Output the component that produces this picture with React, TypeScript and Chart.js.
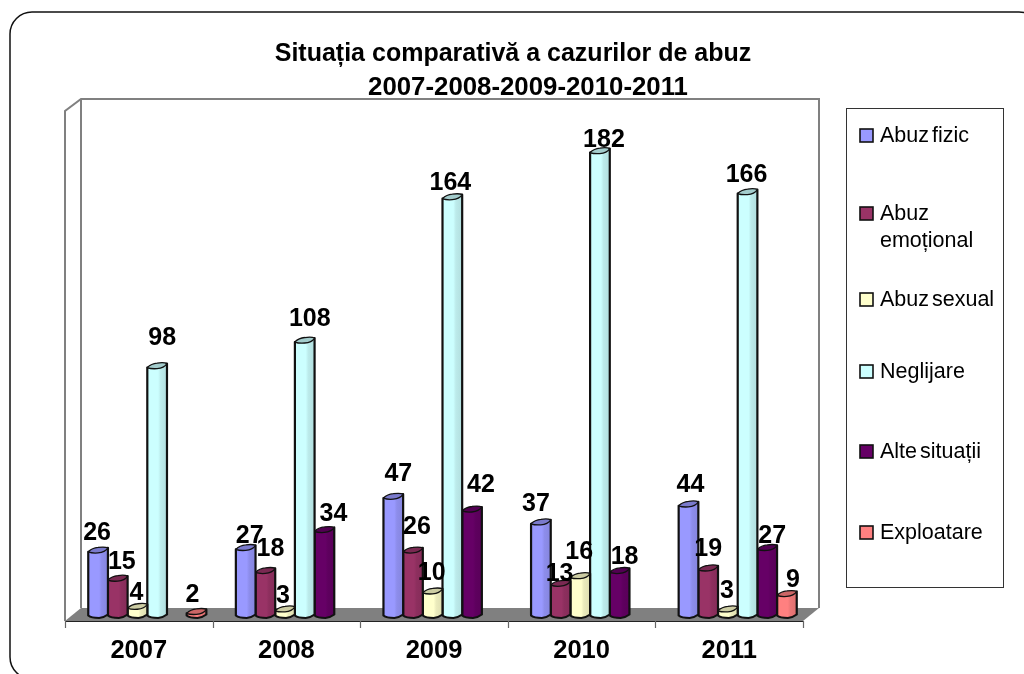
import React, { useEffect, useRef } from "react";
import { Chart, registerables } from "chart.js";

Chart.register(...registerables);

const years = ["2007", "2008", "2009", "2010", "2011"];
const abuzFizic = [26, 27, 47, 37, 44];
const abuzEmotional = [15, 18, 26, 13, 19];
const abuzSexual = [4, 3, 10, 16, 3];
const neglijare = [98, 108, 164, 182, 166];
const alteSituatii = [null, 34, 42, 18, 27];
const exploatare = [2, null, null, null, 9];

const seriesNames = ["Abuz fizic", "Abuz emoțional", "Abuz sexual", "Neglijare", "Alte situații", "Exploatare"];
const seriesValues = [abuzFizic, abuzEmotional, abuzSexual, neglijare, alteSituatii, exploatare];
const seriesColors = ["#9999FF", "#993366", "#FFFFCC", "#CCFFFF", "#660066", "#FF8080"];
const titleLines = ["Situația comparativă a cazurilor de abuz", "2007-2008-2009-2010-2011"];

// Label placement relative to each bar's top centre, per series then per year.
const labelNudges: [number, number][][] = [
  [[-1, -18], [4, -13], [5, -24], [-5, -19], [2, -20]],
  [[4, -17], [5, -23], [4, -24], [-1, -11], [0, -20]],
  [[-1, -15], [-2, -14], [-1, -19], [-1, -25], [-1, -19]],
  [[5, -29], [5, -22], [-2, -15], [4, -12], [-1, -18]],
  [[0, 0], [9, -17], [9, -25], [5, -15], [5, -13]],
  [[-4, -18], [0, 0], [0, 0], [0, 0], [6, -15]],
];

// Legend rows: vertical centre of each line of text.
const legendRows: { lines: string[]; ys: number[] }[] = [
  { lines: ["Abuz fizic"], ys: [136] },
  { lines: ["Abuz", "emoțional"], ys: [214, 241] },
  { lines: ["Abuz sexual"], ys: [300] },
  { lines: ["Neglijare"], ys: [372] },
  { lines: ["Alte situații"], ys: [452] },
  { lines: ["Exploatare"], ys: [533] },
];

const FONT = '"Liberation Sans", Arial, sans-serif';
const DEPTH_X = 8.5;

function shade(hex: string, k: number) {
  const n = parseInt(hex.slice(1), 16);
  const c = [(n >> 16) & 255, (n >> 8) & 255, n & 255].map((v) => Math.round(v * k));
  return `rgb(${c[0]},${c[1]},${c[2]})`;
}

function cylinder(ctx: CanvasRenderingContext2D, x0: number, x1: number, top: number, base: number, color: string) {
  const w = x1 - x0;
  const grad = ctx.createLinearGradient(x0, 0, x1, 0);
  grad.addColorStop(0, color);
  grad.addColorStop(0.55, color);
  grad.addColorStop(0.68, shade(color, 0.92));
  grad.addColorStop(1, shade(color, 0.87));
  ctx.lineWidth = 2.2;
  ctx.strokeStyle = "#111";
  ctx.lineJoin = "round";
  ctx.beginPath();
  ctx.moveTo(x0, top + 1.5);
  ctx.lineTo(x0, base - 2);
  ctx.quadraticCurveTo(x0 + 0.15 * w, base + 0.5, x0 + 0.55 * w, base + 0.5);
  ctx.quadraticCurveTo(x0 + 0.8 * w, base, x1, base - 3);
  ctx.lineTo(x1, top - 2.5);
  ctx.closePath();
  ctx.fillStyle = grad;
  ctx.fill();
  ctx.stroke();
  ctx.beginPath();
  ctx.moveTo(x0, top + 1.5);
  ctx.quadraticCurveTo(x0 + 0.2 * w, top - 2.5, x0 + 0.5 * w, top - 3);
  ctx.quadraticCurveTo(x0 + 0.85 * w, top - 4, x1, top - 2.5);
  ctx.quadraticCurveTo(x0 + 0.85 * w, top + 2, x0 + 0.5 * w, top + 2.5);
  ctx.quadraticCurveTo(x0 + 0.2 * w, top + 3, x0, top + 1.5);
  ctx.closePath();
  ctx.fillStyle = shade(color, 0.8);
  ctx.fill();
  ctx.lineWidth = 1.3;
  ctx.stroke();
}

const scenePlugin = {
  id: "scene",
  beforeDraw(chart: any) {
    const ctx: CanvasRenderingContext2D = chart.ctx;
    const x = chart.scales.x;
    ctx.save();
    ctx.fillStyle = "#fff";
    ctx.fillRect(0, 0, chart.width, chart.height);

    // Outer rounded frame, running off the right and bottom of the page
    ctx.strokeStyle = "#111";
    ctx.lineWidth = 1.5;
    ctx.beginPath();
    ctx.roundRect(10, 12, 1031, 667, 22);
    ctx.stroke();

    // Walls and floor
    const fl = x.left, fr = x.right, fy = 621, by = 608, dx = 16;
    ctx.strokeStyle = "#808080";
    ctx.lineWidth = 2;
    ctx.beginPath();
    ctx.moveTo(fl, fy);
    ctx.lineTo(fl, 111);
    ctx.lineTo(fl + dx, 99);
    ctx.lineTo(fr + dx, 99);
    ctx.lineTo(fr + dx, by);
    ctx.moveTo(fl + dx, 99);
    ctx.lineTo(fl + dx, by);
    ctx.stroke();
    ctx.fillStyle = "#808080";
    ctx.beginPath();
    ctx.moveTo(fl, fy);
    ctx.lineTo(fl + dx, by);
    ctx.lineTo(fr + dx, by);
    ctx.lineTo(fr, fy);
    ctx.closePath();
    ctx.fill();

    // Front axis line and tick marks
    ctx.strokeStyle = "#222";
    ctx.lineWidth = 1;
    ctx.beginPath();
    ctx.moveTo(fl, fy + 0.5);
    ctx.lineTo(fr, fy + 0.5);
    ctx.stroke();
    ctx.strokeStyle = "#666";
    ctx.lineWidth = 1.2;
    ctx.beginPath();
    const step = (fr - fl) / years.length;
    for (let i = 0; i <= years.length; i++) {
      const tx = Math.round(fl + i * step) + 0.5;
      ctx.moveTo(tx, fy);
      ctx.lineTo(tx, fy + 7);
    }
    ctx.stroke();
    ctx.restore();
  },
  beforeDatasetDraw(chart: any, args: any) {
    const ctx: CanvasRenderingContext2D = chart.ctx;
    const meta = args.meta;
    const color = chart.data.datasets[args.index].backgroundColor;
    ctx.save();
    meta.data.forEach((el: any, j: number) => {
      if (chart.data.datasets[args.index].data[j] == null) return;
      const cx = el.x + DEPTH_X;
      cylinder(ctx, cx - el.width / 2, cx + el.width / 2, el.y, el.base + 0.5, color);
    });
    ctx.restore();
    return false;
  },
  afterDatasetsDraw(chart: any) {
    const ctx: CanvasRenderingContext2D = chart.ctx;
    ctx.save();
    ctx.fillStyle = "#000";
    ctx.textAlign = "center";
    ctx.textBaseline = "middle";
    // Data labels
    ctx.font = `bold 25px ${FONT}`;
    chart.data.datasets.forEach((ds: any, i: number) => {
      const meta = chart.getDatasetMeta(i);
      meta.data.forEach((el: any, j: number) => {
        if (ds.data[j] == null) return;
        const [nx, ny] = labelNudges[i][j];
        ctx.fillText(String(ds.data[j]), el.x + DEPTH_X + nx, el.y + ny + 1);
      });
    });
    // Title
    ctx.font = `bold 25px ${FONT}`;
    ctx.fillText(titleLines[0], 513, 54);
    ctx.font = `bold 25.8px ${FONT}`;
    ctx.fillText(titleLines[1], 528, 88);

    // Legend
    ctx.strokeStyle = "#333";
    ctx.lineWidth = 1;
    ctx.strokeRect(846.5, 108.5, 157, 479);
    ctx.textAlign = "left";
    ctx.font = `21.5px ${FONT}`;
    (ctx as any).wordSpacing = "-3px";
    legendRows.forEach((row, i) => {
      ctx.fillStyle = seriesColors[i];
      ctx.strokeStyle = "#111";
      ctx.lineWidth = 1.6;
      ctx.fillRect(860, row.ys[0] - 7, 13, 13);
      ctx.strokeRect(860, row.ys[0] - 7, 13, 13);
      ctx.fillStyle = "#000";
      row.lines.forEach((t, k) => ctx.fillText(t, 880, row.ys[k]));
    });
    ctx.restore();
  },
};

export default function App() {
  const ref = useRef<HTMLCanvasElement>(null);
  useEffect(() => {
    document.body.style.margin = "0";
    const chart = new Chart(ref.current!, {
      type: "bar",
      data: {
        labels: years,
        datasets: seriesNames.map((name, i) => ({
          label: name,
          data: seriesValues[i],
          backgroundColor: seriesColors[i],
          categoryPercentage: 0.8,
          barPercentage: 1,
        })),
      },
      plugins: [scenePlugin],
      options: {
        responsive: false,
        animation: false,
        layout: { padding: { left: 65, right: 221, top: 105, bottom: 0 } },
        plugins: { legend: { display: false }, title: { display: false }, tooltip: { enabled: false } },
        scales: {
          x: {
            grid: { display: false },
            border: { display: false },
            ticks: { color: "#000", font: { family: FONT, size: 25.5, weight: "bold" }, padding: 11, maxRotation: 0 },
            afterFit: (s: any) => { s.height = 57; },
          },
          y: { display: false, min: 0, max: 200 },
        },
      },
    } as any);
    return () => chart.destroy();
  }, []);
  return <canvas ref={ref} width={1024} height={674} style={{ display: "block" }} />;
}
